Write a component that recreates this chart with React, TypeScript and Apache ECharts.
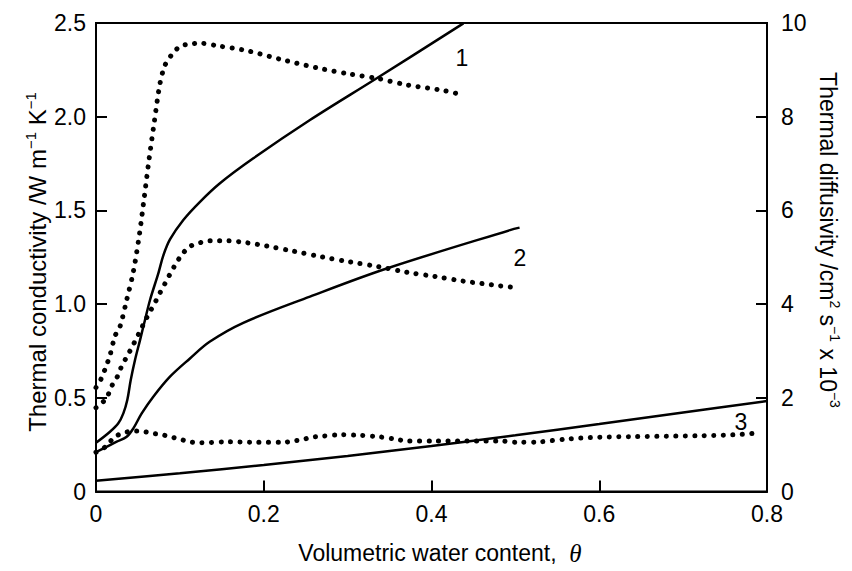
import React, { useEffect, useRef } from "react";
import * as echarts from "echarts";

// Thermal conductivity (W m-1 K-1), left axis — solid curves
const thetaK1 = [0, 0.0167, 0.0266, 0.0326, 0.0373, 0.0414, 0.0465, 0.0525, 0.0584, 0.0644, 0.0743, 0.0803, 0.0882, 0.1041, 0.124, 0.1478, 0.1876, 0.2551, 0.3347, 0.438];
const k1 = [0.26, 0.319, 0.364, 0.417, 0.488, 0.595, 0.702, 0.808, 0.915, 1.022, 1.164, 1.26, 1.345, 1.449, 1.546, 1.645, 1.778, 1.982, 2.205, 2.498];

const thetaK2 = [0, 0.0167, 0.0247, 0.0366, 0.0445, 0.0545, 0.0683, 0.0882, 0.112, 0.1359, 0.1756, 0.2551, 0.3466, 0.4936, 0.505];
const k2 = [0.21, 0.248, 0.266, 0.292, 0.337, 0.417, 0.506, 0.613, 0.71, 0.8, 0.9, 1.04, 1.19, 1.395, 1.408];

const thetaK3 = [0, 0.1, 0.2, 0.3, 0.4, 0.5, 0.6, 0.7, 0.8];
const k3 = [0.058, 0.097, 0.142, 0.19, 0.243, 0.3, 0.36, 0.421, 0.483];

// Thermal diffusivity (cm2 s-1 x 10-3), right axis — dotted curves
const thetaD1 = [0, 0.006, 0.011, 0.0167, 0.0227, 0.0286, 0.0366, 0.0445, 0.0517, 0.0576, 0.0632, 0.0695, 0.0763, 0.0823, 0.0902, 0.1001, 0.112, 0.124, 0.1458, 0.1796, 0.2233, 0.267, 0.3028, 0.3347, 0.3704, 0.4141, 0.438];
const d1 = [2.22, 2.4, 2.62, 2.91, 3.32, 3.52, 4.09, 4.69, 5.48, 6.29, 7.08, 7.89, 8.71, 9.1, 9.32, 9.5, 9.55, 9.57, 9.51, 9.41, 9.21, 9.03, 8.91, 8.82, 8.68, 8.56, 8.46];

const thetaD2 = [0, 0.012, 0.0187, 0.0254, 0.03, 0.0356, 0.0417, 0.0477, 0.0533, 0.0584, 0.0644, 0.0703, 0.0763, 0.0823, 0.0882, 0.0942, 0.1021, 0.112, 0.124, 0.1359, 0.1578, 0.1796, 0.2035, 0.2353, 0.2691, 0.3028, 0.3366, 0.3704, 0.4042, 0.438, 0.4817, 0.496];
const d2 = [1.79, 1.98, 2.25, 2.45, 2.65, 2.84, 3.04, 3.25, 3.45, 3.64, 3.84, 4.03, 4.24, 4.44, 4.64, 4.83, 5.05, 5.23, 5.31, 5.35, 5.35, 5.31, 5.24, 5.13, 5.01, 4.9, 4.8, 4.68, 4.59, 4.49, 4.39, 4.36];

const thetaD3 = [0, 0.011, 0.0227, 0.0346, 0.0453, 0.0564, 0.0676, 0.079, 0.0902, 0.1013, 0.1124, 0.124, 0.1558, 0.1916, 0.2241, 0.2353, 0.2464, 0.2575, 0.2686, 0.2909, 0.3139, 0.3366, 0.3592, 0.3704, 0.402, 0.442, 0.4817, 0.5016, 0.5294, 0.5612, 0.6009, 0.6406, 0.6804, 0.7201, 0.7598, 0.7837];
const d3 = [0.84, 0.95, 1.17, 1.26, 1.29, 1.28, 1.24, 1.21, 1.16, 1.11, 1.06, 1.04, 1.06, 1.05, 1.05, 1.08, 1.11, 1.16, 1.18, 1.21, 1.2, 1.17, 1.11, 1.08, 1.08, 1.08, 1.08, 1.05, 1.06, 1.12, 1.16, 1.17, 1.18, 1.19, 1.21, 1.24];

const curveLabels = ["1", "2", "3"];
const xTitle = "{n|Volumetric water content,  }{it|θ}";
const yLeftTitle = "{n|Thermal conductivity /W m}{sup|−1}{n| K}{sup|−1}";
const yRightTitle = "{n|Thermal diffusivity /cm}{sup|2}{n| s}{sup|−1}{n| x 10}{sup|−3}";

const FONT = "'Liberation Sans', Arial, Helvetica, sans-serif";

const zip = (xs: number[], ys: number[]) => xs.map((x, i) => [x, ys[i]]);

export default function App() {
  const ref = useRef<HTMLDivElement>(null);
  useEffect(() => {
    const chart = echarts.init(ref.current!, null, { renderer: "svg" });
    const solid = (xs: number[], ys: number[]) => ({
      type: "line",
      yAxisIndex: 0,
      data: zip(xs, ys),
      showSymbol: false,
      smooth: 0.35,
      lineStyle: { color: "#000", width: 2.5 },
      silent: true,
    });
    const dotted = (xs: number[], ys: number[]) => ({
      type: "line",
      yAxisIndex: 1,
      data: zip(xs, ys),
      showSymbol: false,
      smooth: 0.3,
      lineStyle: { color: "#000", width: 5, type: [0.1, 9.4], cap: "round" },
      silent: true,
    });
    const rich = (fs: number) => ({
      sup: { fontSize: Math.round(fs * 0.62), fontFamily: FONT, fill: "#000", color: "#000", verticalAlign: "top", lineHeight: fs + 4 },
      n: { fontSize: fs, fontFamily: FONT, fill: "#000", color: "#000", lineHeight: fs + 4 },
      it: { fontSize: fs + 2, fontFamily: "'Liberation Serif', 'DejaVu Serif', serif", fontStyle: "italic", fill: "#000", color: "#000", lineHeight: fs + 4 },
    });
    const axisCommon = {
      axisLine: { show: true, lineStyle: { color: "#000", width: 2 } },
      axisTick: { show: true, inside: true, length: 11, lineStyle: { color: "#000", width: 2 } },
      splitLine: { show: false },
    };
    const labelStyle = { color: "#000", fontSize: 23, fontFamily: FONT };
    const fmt1 = (v: number) => (v === 0 ? "0" : v.toFixed(1));
    const curveLabel = (text: string, x: number, y: number) => ({
      type: "text",
      x,
      y,
      style: { text, fontSize: 23, fontFamily: FONT, fill: "#000", align: "center", verticalAlign: "middle" },
    });
    chart.setOption({
      animation: false,
      backgroundColor: "#fff",
      grid: { left: 96, right: 85, top: 23, bottom: 79.5, show: true, borderColor: "#000", borderWidth: 2 },
      xAxis: {
        type: "value",
        min: 0,
        max: 0.8,
        interval: 0.2,
        ...axisCommon,
        axisLabel: { ...labelStyle, margin: 11, formatter: fmt1 },
      },
      yAxis: [
        {
          type: "value",
          min: 0,
          max: 2.5,
          interval: 0.5,
          position: "left",
          ...axisCommon,
          axisLabel: { ...labelStyle, margin: 10, formatter: fmt1 },
        },
        {
          type: "value",
          min: 0,
          max: 10,
          interval: 2,
          position: "right",
          ...axisCommon,
          axisLabel: { ...labelStyle, margin: 14, formatter: (v: number) => String(v) },
        },
      ],
      series: [
        solid(thetaK1, k1),
        solid(thetaK2, k2),
        solid(thetaK3, k3),
        dotted(thetaD1, d1),
        dotted(thetaD2, d2),
        dotted(thetaD3, d3),
      ],
      graphic: [
        { type: "text", x: 440, y: 553, style: { text: xTitle, rich: rich(23), align: "center", verticalAlign: "middle" } },
        { type: "text", x: 37, y: 262, rotation: Math.PI / 2, style: { text: yLeftTitle, rich: rich(24), align: "center", verticalAlign: "middle" } },
        { type: "text", x: 828, y: 240, rotation: -Math.PI / 2, style: { text: yRightTitle, rich: rich(23), align: "center", verticalAlign: "middle" } },
        curveLabel(curveLabels[0], 462, 58),
        curveLabel(curveLabels[1], 520, 258),
        curveLabel(curveLabels[2], 741, 422),
      ],
    });
    return () => chart.dispose();
  }, []);
  return <div ref={ref} style={{ position: "absolute", left: 0, top: 0, width: 852, height: 571 }} />;
}
